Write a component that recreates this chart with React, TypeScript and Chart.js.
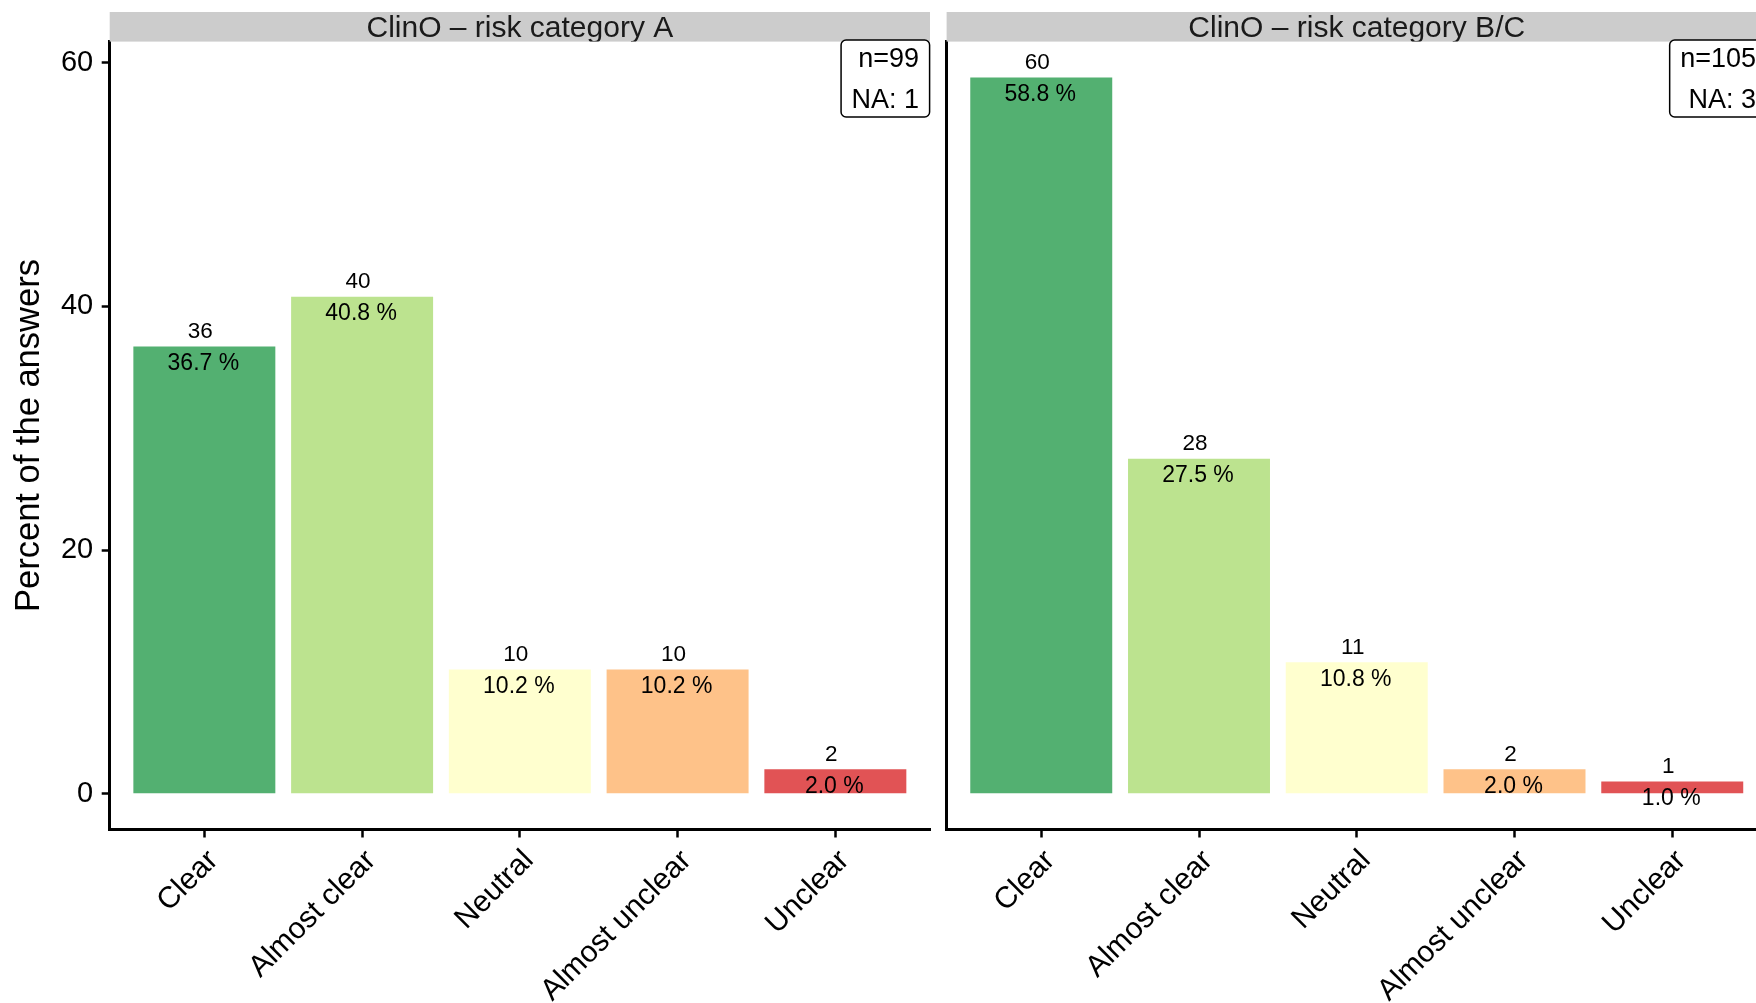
import React, { useEffect, useRef } from 'react';
import { Chart, registerables } from 'chart.js';

Chart.register(...registerables);

const FONT = "'Liberation Sans', Arial, Helvetica, sans-serif";
Chart.defaults.font.family = FONT;

// ---- data ----
const categories = ['Clear', 'Almost clear', 'Neutral', 'Almost unclear', 'Unclear'];
const panelTitles = ['ClinO \u2013 risk category A', 'ClinO \u2013 risk category B/C'];
const percentA = [36.7, 40.8, 10.2, 10.2, 2.0];
const countsA = [36, 40, 10, 10, 2];
const percentB = [58.8, 27.5, 10.8, 2.0, 1.0];
const countsB = [60, 28, 11, 2, 1];
const nTotals = [99, 105];
const naCounts = [1, 3];
const yTicks = [0, 20, 40, 60];
const yTitle = 'Percent of the answers';
const barColors = [
  'rgba(26,150,65,0.75)',
  'rgba(166,217,106,0.75)',
  'rgba(255,255,191,0.75)',
  'rgba(253,174,97,0.75)',
  'rgba(215,25,28,0.75)',
];
const yMin = -2.94;
const yMax = 61.74;

const decorPlugin = {
  id: 'panelDecor',
  afterDraw(chart: any, _args: any, opts: any) {
    const { ctx, chartArea } = chart;
    const { left, right, top, bottom } = chartArea;
    ctx.save();
    // facet strip
    const stripTop = top - 29.6;
    ctx.fillStyle = '#CCCCCC';
    ctx.fillRect(left, stripTop, right - left, top - stripTop);
    ctx.save();
    ctx.beginPath();
    ctx.rect(left, stripTop, right - left, top - stripTop);
    ctx.clip();
    ctx.fillStyle = '#1A1A1A';
    ctx.font = `30px ${FONT}`;
    ctx.textAlign = 'center';
    ctx.textBaseline = 'alphabetic';
    ctx.fillText(opts.title, (left + right) / 2, top - 4.3);
    ctx.restore();

    // n / NA box
    ctx.font = `27px ${FONT}`;
    const l1 = `n=${opts.n}`;
    const l2 = `NA: ${opts.na}`;
    const w = Math.max(ctx.measureText(l1).width, ctx.measureText(l2).width) + 21;
    const bx2 = right - 0.4;
    const bx1 = bx2 - w;
    const by1 = top - 1.5;
    const by2 = top + 75.4;
    ctx.beginPath();
    ctx.roundRect(bx1, by1, w, by2 - by1, 5);
    ctx.fillStyle = '#FFFFFF';
    ctx.fill();
    ctx.lineWidth = 1.5;
    ctx.strokeStyle = '#000000';
    ctx.stroke();
    ctx.fillStyle = '#000000';
    ctx.textAlign = 'right';
    ctx.textBaseline = 'alphabetic';
    ctx.fillText(l1, bx2 - 10.5, top + 25);
    ctx.fillText(l2, bx2 - 10.5, top + 66.6);

    // bar labels
    const meta = chart.getDatasetMeta(0);
    meta.data.forEach((el: any, i: number) => {
      ctx.fillStyle = '#000000';
      ctx.textAlign = 'center';
      ctx.font = `22.5px ${FONT}`;
      ctx.fillText(String(opts.counts[i]), el.x - 4, el.y - 8.5);
      ctx.font = `23px ${FONT}`;
      ctx.fillText(`${opts.percents[i].toFixed(1)} %`, el.x - 1, el.y + 23.5);
    });

    // y axis title
    if (opts.yTitle) {
      ctx.save();
      ctx.translate(39, (top + bottom) / 2);
      ctx.rotate(-Math.PI / 2);
      ctx.font = `34.5px ${FONT}`;
      ctx.fillStyle = '#000000';
      ctx.textAlign = 'center';
      ctx.textBaseline = 'alphabetic';
      ctx.fillText(opts.yTitle, 0, 0);
      ctx.restore();
    }
    ctx.restore();
  },
};

function makeConfig(p: {
  percents: number[];
  counts: number[];
  title: string;
  n: number;
  na: number;
  showY: boolean;
  yWidth: number;
  padRight: number;
}): any {
  return {
    type: 'bar',
    data: {
      datasets: [
        {
          data: p.percents.map((v, i) => ({ x: i + 1, y: v })),
          backgroundColor: barColors,
          borderWidth: 0,
          categoryPercentage: 0.9,
          barPercentage: 1,
        },
      ],
    },
    options: {
      responsive: false,
      animation: false,
      devicePixelRatio: 1,
      layout: { padding: { top: 41.6, right: p.padRight, bottom: 0, left: 0 } },
      plugins: {
        legend: { display: false },
        tooltip: { enabled: false },
        panelDecor: {
          title: p.title,
          n: p.n,
          na: p.na,
          counts: p.counts,
          percents: p.percents,
          yTitle: p.showY ? yTitle : null,
        },
      },
      scales: {
        x: {
          type: 'linear',
          min: 0.4,
          max: 5.6,
          offset: false,
          afterBuildTicks: (s: any) => {
            s.ticks = categories.map((_, i) => ({ value: i + 1 }));
          },
          afterFit: (s: any) => {
            s.height = 173.5;
            s.paddingLeft = 0;
            s.paddingRight = 0;
          },
          ticks: {
            callback: (v: any) => categories[Math.round(Number(v)) - 1] ?? '',
            autoSkip: false,
            minRotation: 45,
            maxRotation: 45,
            padding: 5.5,
            labelOffset: 9,
            color: '#000000',
            font: { size: 30, family: FONT },
          },
          grid: {
            offset: false,
            drawOnChartArea: false,
            drawTicks: true,
            tickLength: 8,
            tickColor: '#000000',
            tickWidth: 2.5,
          },
          border: { display: true, color: '#000000', width: 3 },
        },
        y: {
          min: yMin,
          max: yMax,
          afterBuildTicks: (s: any) => {
            s.ticks = yTicks.map((v) => ({ value: v }));
          },
          afterFit: (s: any) => {
            s.width = p.yWidth;
            s.paddingTop = 0;
            s.paddingBottom = 0;
          },
          ticks: {
            display: p.showY,
            padding: 8.5,
            color: '#000000',
            font: { size: 29, family: FONT },
          },
          grid: {
            drawOnChartArea: false,
            drawTicks: p.showY,
            tickLength: p.showY ? 8 : 0,
            tickColor: '#000000',
            tickWidth: 2.5,
          },
          border: { display: true, color: '#000000', width: 3 },
        },
      },
    },
    plugins: [decorPlugin],
  };
}

const WA = 935;
const WB = 900;
const LEFT_B = 930;

export default function App() {
  const refA = useRef<HTMLCanvasElement>(null);
  const refB = useRef<HTMLCanvasElement>(null);

  useEffect(() => {
    const a = new Chart(
      refA.current as HTMLCanvasElement,
      makeConfig({
        percents: percentA,
        counts: countsA,
        title: panelTitles[0],
        n: nTotals[0],
        na: naCounts[0],
        showY: true,
        yWidth: 109.7,
        padRight: WA - 930,
      })
    );
    const b = new Chart(
      refB.current as HTMLCanvasElement,
      makeConfig({
        percents: percentB,
        counts: countsB,
        title: panelTitles[1],
        n: nTotals[1],
        na: naCounts[1],
        showY: false,
        yWidth: 946.6 - LEFT_B,
        padRight: WB - (946.6 + 820.3 - LEFT_B),
      })
    );
    return () => {
      a.destroy();
      b.destroy();
    };
  }, []);

  return (
    <div
      style={{
        position: 'absolute',
        left: 0,
        top: 0,
        width: 1756,
        height: 1003,
        overflow: 'hidden',
        background: '#FFFFFF',
      }}
    >
      <canvas
        ref={refA}
        width={WA}
        height={1003}
        style={{ position: 'absolute', left: 0, top: 0, width: WA, height: 1003 }}
      />
      <canvas
        ref={refB}
        width={WB}
        height={1003}
        style={{ position: 'absolute', left: LEFT_B, top: 0, width: WB, height: 1003 }}
      />
    </div>
  );
}
